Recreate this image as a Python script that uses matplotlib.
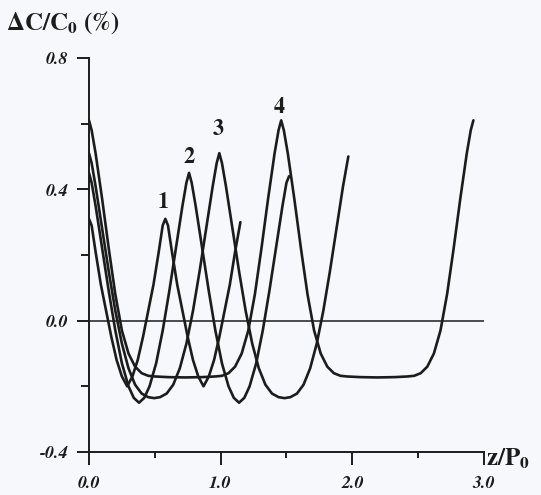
import matplotlib.pyplot as plt

plt.rcParams['mathtext.fontset'] = 'stix'

# curve 1 (shortest period)
z1 = [0, .02, .05, .09, .13, .17, .21, .25, .29, .33, .37, .41, .45, .49, .53, .56, .58,
      .60, .63, .67, .71, .75, .79, .83, .87, .91, .95, .99, 1.03, 1.07, 1.11, 1.15]
c1 = [.31, .29, .21, .11, .03, -.05, -.12, -.17, -.20, -.17, -.12, -.05, .03, .11, .21, .29, .31,
      .29, .21, .11, .03, -.05, -.12, -.17, -.20, -.17, -.12, -.05, .03, .11, .21, .30]

# curve 2
z2 = [0, .02, .05, .10, .15, .20, .25, .30, .34, .38, .42, .46, .51, .56, .61, .66, .71, .74, .76,
      .78, .81, .86, .91, .96, 1.01, 1.06, 1.10, 1.14, 1.18, 1.22, 1.27, 1.32, 1.37, 1.42, 1.47, 1.50, 1.52]
c2 = [.45, .42, .35, .22, .09, -.03, -.13, -.20, -.235, -.25, -.235, -.20, -.13, -.03, .09, .22, .35, .42, .45,
      .42, .35, .22, .09, -.03, -.13, -.20, -.235, -.25, -.235, -.20, -.13, -.03, .09, .22, .35, .42, .44]

# curve 3
z3 = [0, .02, .05, .10, .15, .20, .25, .30, .35, .40, .45, .495, .54, .59, .64, .69, .74, .79, .84, .89,
      .94, .97, .99, 1.01, 1.04, 1.09, 1.14, 1.19, 1.24, 1.29, 1.34, 1.39, 1.44, 1.485, 1.53, 1.58, 1.63,
      1.68, 1.73, 1.78, 1.83, 1.88, 1.93, 1.97]
c3 = [.51, .48, .41, .28, .15, .03, -.07, -.145, -.195, -.222, -.233, -.236, -.233, -.222, -.195, -.145,
      -.07, .03, .15, .28, .41, .48, .51, .48, .41, .28, .15, .03, -.07, -.145, -.195, -.222, -.233, -.236,
      -.233, -.222, -.195, -.145, -.07, .03, .15, .28, .41, .50]

# curve 4 (longest period, flat minima)
z4 = [0, .02, .05, .10, .15, .20, .25, .30, .35, .40, .45, .50, .60, .73, .86, .96, 1.01, 1.06, 1.11,
      1.16, 1.21, 1.26, 1.31, 1.36, 1.41, 1.44, 1.46, 1.48, 1.51, 1.56, 1.61, 1.66, 1.71, 1.76, 1.81,
      1.86, 1.91, 1.96, 2.06, 2.19, 2.32, 2.42, 2.47, 2.52, 2.57, 2.62, 2.67, 2.72, 2.77, 2.82, 2.87,
      2.90, 2.92]
c4 = [.61, .58, .51, .37, .22, .08, -.03, -.10, -.14, -.16, -.168, -.17, -.172, -.173, -.172, -.17,
      -.168, -.16, -.14, -.10, -.03, .08, .22, .37, .51, .58, .61, .58, .51, .37, .22, .08, -.03, -.10,
      -.14, -.16, -.168, -.17, -.172, -.173, -.172, -.17, -.168, -.16, -.14, -.10, -.03, .08, .22, .37,
      .51, .58, .61]

labels = ['1', '2', '3', '4']
label_z = [0.563, 0.76, 0.98, 1.445]
label_v = [0.36, 0.497, 0.582, 0.648]

xticks = [0.0, 1.0, 2.0, 3.0]
xminor = [0.5, 1.5, 2.5]
yticks = [-0.4, 0.0, 0.4, 0.8]
yminor = [-0.2, 0.2, 0.6]

ink = '#1c1c1c'
fig = plt.figure(figsize=(5.41, 4.95), dpi=100, facecolor='#f6f8fb')
ax = fig.add_axes([0.1645, 0.0869, 0.730, 0.796])
ax.set_facecolor('#f6f8fb')

for z, c in [(z1, c1), (z2, c2), (z3, c3), (z4, c4)]:
    ax.plot(z, c, color=ink, lw=1.9, solid_capstyle='round')

ax.axhline(0, color=ink, lw=1.1)

for t, zx, vy in zip(labels, label_z, label_v):
    ax.text(zx, vy, t, fontsize=16, fontweight='bold', family='STIXGeneral',
            ha='center', va='center', color=ink)

ax.set_xlim(0, 3.0)
ax.set_ylim(-0.4, 0.8)
ax.spines['top'].set_visible(False)
ax.spines['right'].set_visible(False)
for s in ['left', 'bottom']:
    ax.spines[s].set_linewidth(1.4)
    ax.spines[s].set_color(ink)

ax.set_xticks(xticks)
ax.set_xticks(xminor, minor=True)
ax.set_yticks(yticks)
ax.set_yticks(yminor, minor=True)
ax.set_xticklabels([f'{v:.1f}' for v in xticks])
ax.set_yticklabels([f'{v:.1f}' for v in yticks])
ax.tick_params(axis='y', which='major', direction='out', length=9, width=1.4, pad=6, colors=ink)
ax.tick_params(axis='y', which='minor', direction='out', length=6, width=1.4, colors=ink)
ax.tick_params(axis='x', which='major', direction='out', length=9, width=1.4, pad=8, colors=ink)
ax.tick_params(axis='x', which='minor', direction='out', length=4, width=1.4, colors=ink)
for lab in ax.get_xticklabels() + ax.get_yticklabels():
    lab.set_family('STIXGeneral')
    lab.set_style('italic')
    lab.set_weight('bold')
    lab.set_fontsize(13)

fig.text(0.012, 0.955, r'$\mathbf{\Delta C/C_0\ (\%)}$', fontsize=18, ha='left', va='center', color=ink)
fig.text(0.898, 0.073, r'$\mathbf{z/P_0}$', fontsize=18, ha='left', va='center', color=ink)

fig.savefig('out.png', dpi=100, facecolor=fig.get_facecolor())
